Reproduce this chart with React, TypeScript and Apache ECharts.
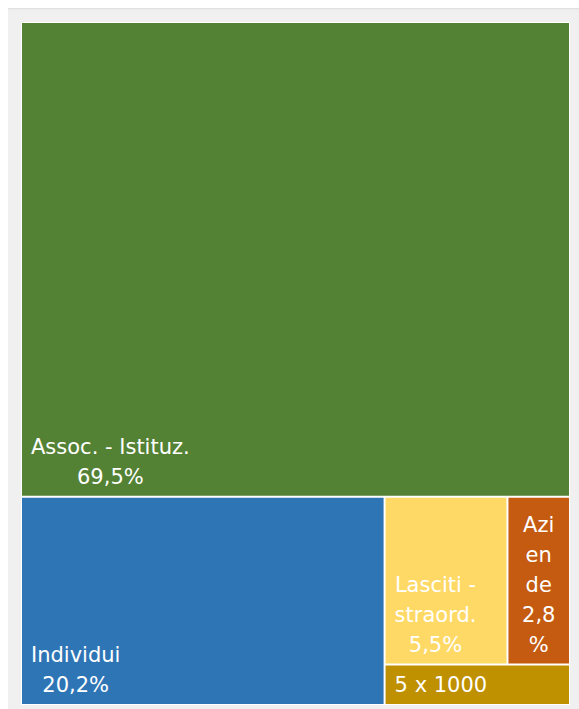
import React, { useEffect, useRef } from 'react';
import * as echarts from 'echarts';

// ---- data ----
const categories = ['Assoc. - Istituz.', 'Individui', 'Lasciti - straord.', 'Aziende', '5 x 1000'];
const values = [69.5, 20.2, 5.5, 2.8, 2.0];
const colors = ['#548235', '#2E75B6', '#FFD966', '#C55A11', '#BF9000'];
// label text, line by line, as it wraps in each box
const labelLines = [
  ['Assoc. - Istituz.', '69,5%'],
  ['Individui', '20,2%'],
  ['Lasciti -', 'straord.', '5,5%'],
  ['Azi', 'en', 'de', '2,8', '%'],
  ['5 x 1000'],
];
const labelAnchor = ['left', 'left', 'left', 'center', 'left'];

const FONT = '"DejaVu Sans", sans-serif';
const FS = 21;
const LH = 30;
const PAD_LEFT = 9;

export default function App() {
  const ref = useRef<HTMLDivElement>(null);
  useEffect(() => {
    if (!ref.current) return;
    const chart = echarts.init(ref.current, null, { renderer: 'svg' });
    const ctx = document.createElement('canvas').getContext('2d')!;
    ctx.font = `${FS}px ${FONT}`;
    const textByName: Record<string, string> = {};
    const data = categories.map((name, i) => {
      const lines = labelLines[i];
      textByName[name] = lines.join('\n');
      const w = Math.max(...lines.map((l) => ctx.measureText(l).width));
      const pos = labelAnchor[i] === 'center' ? ['50%', '100%'] : [PAD_LEFT + w / 2, '100%'];
      return {
        name,
        value: values[i],
        itemStyle: { color: colors[i] },
        label: {
          position: pos,
          align: 'center',
          verticalAlign: 'bottom',
          offset: [0, -4],
        },
      };
    });
    chart.setOption({
      animation: false,
      series: [
        {
          type: 'treemap',
          left: 13,
          top: 14,
          width: 549,
          height: 683,
          roam: false,
          nodeClick: false,
          breadcrumb: { show: false },
          sort: 'desc',
          levels: [
            { itemStyle: { borderColor: '#ffffff', borderWidth: 1, gapWidth: 2 } },
            { itemStyle: { borderWidth: 0, gapWidth: 0 } },
          ],
          label: {
            show: true,
            color: '#ffffff',
            fontFamily: FONT,
            fontSize: FS,
            lineHeight: LH,
            padding: 0,
            formatter: (p: any) => textByName[p.name] ?? '',
          },
          emphasis: { disabled: true },
          data,
        },
      ],
    });
    return () => chart.dispose();
  }, []);
  return (
    <div
      style={{
        position: 'fixed',
        left: 8,
        top: 8,
        width: 571,
        height: 701,
        background: '#f0f0f0',
        boxShadow: 'inset 0 2px 2px -1px #dcdcdc',
      }}
    >
      <div ref={ref} style={{ width: 571, height: 701 }} />
    </div>
  );
}
